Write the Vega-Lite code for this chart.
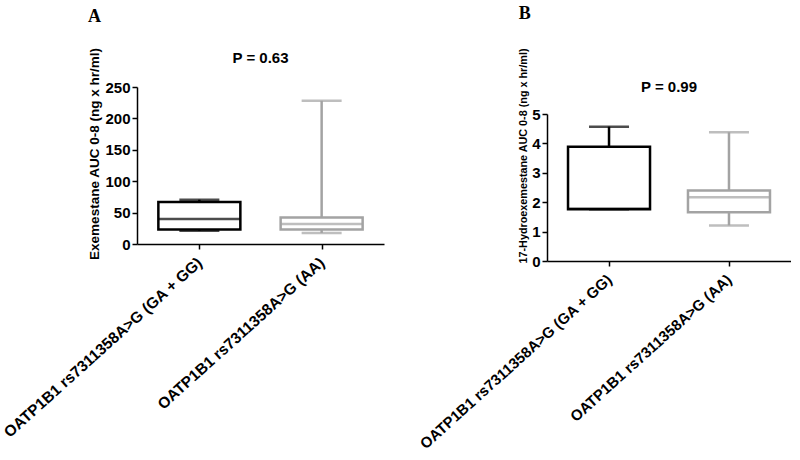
{
  "$schema": "https://vega.github.io/schema/vega-lite/v6.json",
  "padding": {"left": 0, "top": 4, "right": 0, "bottom": 0},
  "background": "white",
  "datasets": {
    "auc": [
      {"analyte": "Exemestane", "group": "OATP1B1 rs7311358A>G (GA + GG)", "min": 21, "q1": 23, "median": 40, "q3": 67, "max": 70.5},
      {"analyte": "Exemestane", "group": "OATP1B1 rs7311358A>G (AA)", "min": 17.5, "q1": 23, "median": 32, "q3": 42, "max": 228},
      {"analyte": "17-Hydroexemestane", "group": "OATP1B1 rs7311358A>G (GA + GG)", "min": 1.76, "q1": 1.76, "median": 1.78, "q3": 3.89, "max": 4.57},
      {"analyte": "17-Hydroexemestane", "group": "OATP1B1 rs7311358A>G (AA)", "min": 1.21, "q1": 1.66, "median": 2.17, "q3": 2.4, "max": 4.38}
    ]
  },
  "config": {
    "view": {"stroke": null},
    "font": "Liberation Sans"
  },
  "spacing": 32,
  "hconcat": [
    {
      "title": {"text": "A", "anchor": "start", "frame": "bounds", "dx": 87, "font": "Liberation Serif", "fontSize": 18, "fontWeight": "bold", "color": "black", "offset": 21},
      "vconcat": [
        {
          "title": {"text": "P = 0.63", "anchor": "middle", "frame": "group", "font": "Liberation Sans", "fontSize": 15, "fontWeight": "bold", "color": "black", "offset": -19},
          "width": 247,
          "height": 157,
          "data": {"name": "auc"},
          "transform": [{"filter": "datum.analyte === 'Exemestane'"}],
          "encoding": {
            "x": {
              "field": "group", "type": "nominal", "sort": null,
              "scale": {"type": "point", "padding": 0.51},
              "axis": {"title": null, "labelAngle": -42, "labelAlign": "right", "labelBaseline": "middle", "labelFont": "Liberation Sans", "labelFontSize": 15.5, "labelFontWeight": "bold", "labelColor": "black", "labelLimit": 0, "labelOverlap": false, "labelPadding": 11, "domainColor": "black", "domainWidth": 1.5, "tickColor": "black", "tickWidth": 1.5, "tickSize": 5}
            }
          },
          "layer": [
            {
              "mark": {"type": "rule", "strokeWidth": 2.5},
              "encoding": {
                "y": {"field": "min", "type": "quantitative", "scale": {"domain": [0, 250], "nice": false},
                  "axis": {"values": [0, 50, 100, 150, 200, 250], "labelOverlap": false, "grid": false, "title": "Exemestane AUC 0-8 (ng x hr/ml)", "titleFont": "Liberation Sans", "titleFontSize": 13.5, "titleFontWeight": "bold", "titleColor": "black", "titleY": 66.5, "titlePadding": 3, "labelFont": "Liberation Sans", "labelFontSize": 15, "labelFontWeight": "bold", "labelColor": "black", "labelPadding": 2, "domainColor": "black", "domainWidth": 1.5, "tickColor": "black", "tickWidth": 1.5, "tickSize": 5}},
                "y2": {"field": "max"},
                "color": {"field": "group", "type": "nominal", "sort": null, "scale": {"range": ["black", "#a3a3a3"]}, "legend": null}
              }
            },
            {
              "mark": {"type": "bar", "width": 82, "fill": "white", "strokeWidth": 2.5},
              "encoding": {
                "y": {"field": "q1", "type": "quantitative",
                  "axis": {"values": [0, 50, 100, 150, 200, 250], "labelOverlap": false, "grid": false, "title": "Exemestane AUC 0-8 (ng x hr/ml)", "titleFont": "Liberation Sans", "titleFontSize": 13.5, "titleFontWeight": "bold", "titleColor": "black", "titleY": 66.5, "titlePadding": 3, "labelFont": "Liberation Sans", "labelFontSize": 15, "labelFontWeight": "bold", "labelColor": "black", "labelPadding": 2, "domainColor": "black", "domainWidth": 1.5, "tickColor": "black", "tickWidth": 1.5, "tickSize": 5}},
                "y2": {"field": "q3"},
                "stroke": {"field": "group", "type": "nominal", "sort": null, "scale": {"range": ["black", "#a3a3a3"]}, "legend": null}
              }
            },
            {
              "mark": {"type": "tick", "size": 82, "thickness": 2.5},
              "encoding": {
                "y": {"field": "median", "type": "quantitative",
                  "axis": {"values": [0, 50, 100, 150, 200, 250], "labelOverlap": false, "grid": false, "title": "Exemestane AUC 0-8 (ng x hr/ml)", "titleFont": "Liberation Sans", "titleFontSize": 13.5, "titleFontWeight": "bold", "titleColor": "black", "titleY": 66.5, "titlePadding": 3, "labelFont": "Liberation Sans", "labelFontSize": 15, "labelFontWeight": "bold", "labelColor": "black", "labelPadding": 2, "domainColor": "black", "domainWidth": 1.5, "tickColor": "black", "tickWidth": 1.5, "tickSize": 5}},
                "color": {"field": "group", "type": "nominal", "sort": null, "legend": null}
              }
            },
            {
              "mark": {"type": "tick", "size": 40, "thickness": 2.5},
              "encoding": {
                "y": {"field": "max", "type": "quantitative",
                  "axis": {"values": [0, 50, 100, 150, 200, 250], "labelOverlap": false, "grid": false, "title": "Exemestane AUC 0-8 (ng x hr/ml)", "titleFont": "Liberation Sans", "titleFontSize": 13.5, "titleFontWeight": "bold", "titleColor": "black", "titleY": 66.5, "titlePadding": 3, "labelFont": "Liberation Sans", "labelFontSize": 15, "labelFontWeight": "bold", "labelColor": "black", "labelPadding": 2, "domainColor": "black", "domainWidth": 1.5, "tickColor": "black", "tickWidth": 1.5, "tickSize": 5}},
                "color": {"field": "group", "type": "nominal", "sort": null, "legend": null}
              }
            },
            {
              "mark": {"type": "tick", "size": 40, "thickness": 2.5},
              "encoding": {
                "y": {"field": "min", "type": "quantitative",
                  "axis": {"values": [0, 50, 100, 150, 200, 250], "labelOverlap": false, "grid": false, "title": "Exemestane AUC 0-8 (ng x hr/ml)", "titleFont": "Liberation Sans", "titleFontSize": 13.5, "titleFontWeight": "bold", "titleColor": "black", "titleY": 66.5, "titlePadding": 3, "labelFont": "Liberation Sans", "labelFontSize": 15, "labelFontWeight": "bold", "labelColor": "black", "labelPadding": 2, "domainColor": "black", "domainWidth": 1.5, "tickColor": "black", "tickWidth": 1.5, "tickSize": 5}},
                "color": {"field": "group", "type": "nominal", "sort": null, "legend": null}
              }
            }
          ]
        }
      ]
    },
    {
      "title": {"text": "B", "anchor": "start", "frame": "bounds", "dx": 102, "font": "Liberation Serif", "fontSize": 18, "fontWeight": "bold", "color": "black", "offset": 25},
      "vconcat": [
        {
          "title": {"text": "P = 0.99", "anchor": "middle", "frame": "group", "font": "Liberation Sans", "fontSize": 15, "fontWeight": "bold", "color": "black", "offset": -47},
          "width": 244,
          "height": 174,
          "data": {"name": "auc"},
          "transform": [{"filter": "datum.analyte === '17-Hydroexemestane'"}],
          "encoding": {
            "x": {
              "field": "group", "type": "nominal", "sort": null,
              "scale": {"type": "point", "padding": 0.517},
              "axis": {"title": null, "labelAngle": -42, "labelAlign": "right", "labelBaseline": "middle", "labelFont": "Liberation Sans", "labelFontSize": 15, "labelFontWeight": "bold", "labelColor": "black", "labelLimit": 0, "labelOverlap": false, "labelPadding": 11, "domainColor": "black", "domainWidth": 1.5, "tickColor": "black", "tickWidth": 1.5, "tickSize": 5}
            }
          },
          "layer": [
            {
              "mark": {"type": "rule", "strokeWidth": 2.5},
              "encoding": {
                "y": {"field": "min", "type": "quantitative", "scale": {"domain": [0, 5], "nice": false, "range": [174, 27]},
                  "axis": {"values": [0, 1, 2, 3, 4, 5], "labelOverlap": false, "grid": false, "title": "17-Hydroexemestane AUC 0-8 (ng x hr/ml)", "titleFont": "Liberation Sans", "titleFontSize": 10.8, "titleFontWeight": "bold", "titleColor": "black", "titleY": 68.5, "titlePadding": 3, "labelFont": "Liberation Sans", "labelFontSize": 15, "labelFontWeight": "bold", "labelColor": "black", "labelPadding": 2, "domainColor": "black", "domainWidth": 1.5, "tickColor": "black", "tickWidth": 1.5, "tickSize": 5}},
                "y2": {"field": "max"},
                "color": {"field": "group", "type": "nominal", "sort": null, "scale": {"range": ["black", "#a3a3a3"]}, "legend": null}
              }
            },
            {
              "mark": {"type": "bar", "width": 82, "fill": "white", "strokeWidth": 2.5},
              "encoding": {
                "y": {"field": "q1", "type": "quantitative",
                  "axis": {"values": [0, 1, 2, 3, 4, 5], "labelOverlap": false, "grid": false, "title": "17-Hydroexemestane AUC 0-8 (ng x hr/ml)", "titleFont": "Liberation Sans", "titleFontSize": 10.8, "titleFontWeight": "bold", "titleColor": "black", "titleY": 68.5, "titlePadding": 3, "labelFont": "Liberation Sans", "labelFontSize": 15, "labelFontWeight": "bold", "labelColor": "black", "labelPadding": 2, "domainColor": "black", "domainWidth": 1.5, "tickColor": "black", "tickWidth": 1.5, "tickSize": 5}},
                "y2": {"field": "q3"},
                "stroke": {"field": "group", "type": "nominal", "sort": null, "scale": {"range": ["black", "#a3a3a3"]}, "legend": null}
              }
            },
            {
              "mark": {"type": "tick", "size": 82, "thickness": 2.5},
              "encoding": {
                "y": {"field": "median", "type": "quantitative",
                  "axis": {"values": [0, 1, 2, 3, 4, 5], "labelOverlap": false, "grid": false, "title": "17-Hydroexemestane AUC 0-8 (ng x hr/ml)", "titleFont": "Liberation Sans", "titleFontSize": 10.8, "titleFontWeight": "bold", "titleColor": "black", "titleY": 68.5, "titlePadding": 3, "labelFont": "Liberation Sans", "labelFontSize": 15, "labelFontWeight": "bold", "labelColor": "black", "labelPadding": 2, "domainColor": "black", "domainWidth": 1.5, "tickColor": "black", "tickWidth": 1.5, "tickSize": 5}},
                "color": {"field": "group", "type": "nominal", "sort": null, "legend": null}
              }
            },
            {
              "mark": {"type": "tick", "size": 40, "thickness": 2.5},
              "encoding": {
                "y": {"field": "max", "type": "quantitative",
                  "axis": {"values": [0, 1, 2, 3, 4, 5], "labelOverlap": false, "grid": false, "title": "17-Hydroexemestane AUC 0-8 (ng x hr/ml)", "titleFont": "Liberation Sans", "titleFontSize": 10.8, "titleFontWeight": "bold", "titleColor": "black", "titleY": 68.5, "titlePadding": 3, "labelFont": "Liberation Sans", "labelFontSize": 15, "labelFontWeight": "bold", "labelColor": "black", "labelPadding": 2, "domainColor": "black", "domainWidth": 1.5, "tickColor": "black", "tickWidth": 1.5, "tickSize": 5}},
                "color": {"field": "group", "type": "nominal", "sort": null, "legend": null}
              }
            },
            {
              "mark": {"type": "tick", "size": 40, "thickness": 2.5},
              "encoding": {
                "y": {"field": "min", "type": "quantitative",
                  "axis": {"values": [0, 1, 2, 3, 4, 5], "labelOverlap": false, "grid": false, "title": "17-Hydroexemestane AUC 0-8 (ng x hr/ml)", "titleFont": "Liberation Sans", "titleFontSize": 10.8, "titleFontWeight": "bold", "titleColor": "black", "titleY": 68.5, "titlePadding": 3, "labelFont": "Liberation Sans", "labelFontSize": 15, "labelFontWeight": "bold", "labelColor": "black", "labelPadding": 2, "domainColor": "black", "domainWidth": 1.5, "tickColor": "black", "tickWidth": 1.5, "tickSize": 5}},
                "color": {"field": "group", "type": "nominal", "sort": null, "legend": null}
              }
            }
          ]
        }
      ]
    }
  ]
}
